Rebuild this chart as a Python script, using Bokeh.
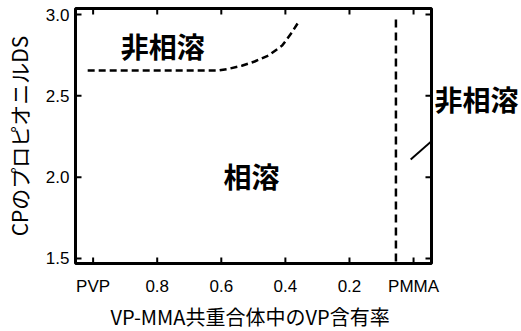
from bokeh.plotting import figure
from bokeh.models import Range1d, FixedTicker, Label, Title, LinearAxis
from bokeh.embed import file_html
from bokeh.resources import INLINE

# Phase boundary (dashed curve)
boundary_x = [1.017, 0.61, 0.58, 0.536, 0.496, 0.453, 0.41, 0.38, 0.358]
boundary_y = [2.656, 2.656, 2.665, 2.685, 2.711, 2.748, 2.809, 2.889, 2.957]

# Vertical dashed boundary near PMMA
pmma_x = [0.055, 0.055]
pmma_y = [1.482, 2.97]

# Region labels
label_texts = ["非相溶", "相溶", "非相溶"]
label_x = [0.783, 0.506, -0.197]
label_y = [2.809, 2.004, 2.478]

# Pointer line from the right label to the vertical boundary
pointer_x = [-0.144, 0.009]
pointer_y = [2.373, 2.109]

# Axis limits
x_lo, x_hi = 1.055, -0.056
y_lo, y_hi = 1.469, 3.037

x_ticks = [1.0, 0.8, 0.6, 0.4, 0.2, 0.0]
x_tick_labels = ["PVP", "0.8", "0.6", "0.4", "0.2", "PMMA"]
y_ticks = [1.5, 2.0, 2.5, 3.0]
y_tick_labels = ["1.5", "2.0", "2.5", "3.0"]

x_title = "VP-MMA共重合体中のVP含有率"
y_title = "CPのプロピオニルDS"

TICK_FONT = "Liberation Sans"
CJK_FONT = "Noto Sans CJK JP"
INK = "black"

p = figure(frame_width=356, frame_height=255, output_backend="svg", toolbar_location=None,
           x_range=Range1d(x_lo, x_hi), y_range=Range1d(y_lo, y_hi),
           min_border_left=66, min_border_right=91, min_border_top=8, min_border_bottom=0)
p.grid.visible = False
p.outline_line_color = INK
p.outline_line_width = 3

for ax, ticks, labels in ((p.xaxis[0], x_ticks, x_tick_labels), (p.yaxis[0], y_ticks, y_tick_labels)):
    ax.ticker = FixedTicker(ticks=ticks)
    ax.major_label_overrides = {t: l for t, l in zip(ticks, labels)}
    ax.axis_line_color = None
    ax.major_tick_line_color = None
    ax.minor_tick_line_color = None
    ax.major_label_text_font = TICK_FONT
    ax.major_label_text_font_size = "17px"
    ax.major_label_text_color = INK

p.xaxis[0].major_label_standoff = 7
p.yaxis[0].major_label_standoff = 0

p.yaxis[0].axis_label = y_title
p.yaxis[0].axis_label_text_font = CJK_FONT
p.yaxis[0].axis_label_text_font_style = "normal"
p.yaxis[0].axis_label_text_font_size = "21px"
p.yaxis[0].axis_label_text_color = INK
p.yaxis[0].axis_label_standoff = 9

# Right-hand region label placed beside the plot at its y value
right_axis = LinearAxis(ticker=FixedTicker(ticks=[label_y[2]]),
                        major_label_overrides={label_y[2]: label_texts[2]})
right_axis.axis_line_color = None
right_axis.major_tick_line_color = None
right_axis.minor_tick_line_color = None
right_axis.major_tick_in = 0
right_axis.major_tick_out = 0
right_axis.major_label_standoff = 3
right_axis.major_label_text_font = CJK_FONT
right_axis.major_label_text_font_style = "bold"
right_axis.major_label_text_font_size = "28px"
right_axis.major_label_text_color = INK
p.add_layout(right_axis, "right")

p.add_layout(Title(text=x_title, align="left", offset=35, standoff=2,
                   text_font=CJK_FONT, text_font_size="20px", text_font_style="normal",
                   text_color=INK), "below")

p.line(boundary_x, boundary_y, line_color=INK, line_width=2.5, line_dash="7 4")
p.line(pmma_x, pmma_y, line_color=INK, line_width=2.5, line_dash="8 5")

# Inward ticks on all four sides
tick_dx = 6 / 320.0
tick_dy = 6 / 162.7
nx, ny = len(x_ticks), len(y_ticks)
tick_x0 = x_ticks + x_ticks + [x_lo] * ny + [x_hi] * ny
tick_x1 = x_ticks + x_ticks + [x_lo - tick_dx] * ny + [x_hi + tick_dx] * ny
tick_y0 = [y_lo] * nx + [y_hi] * nx + y_ticks + y_ticks
tick_y1 = [y_lo + tick_dy] * nx + [y_hi - tick_dy] * nx + y_ticks + y_ticks
p.segment(x0=tick_x0, y0=tick_y0, x1=tick_x1, y1=tick_y1, line_color=INK, line_width=2)

p.line(pointer_x, pointer_y, line_color=INK, line_width=2)

for t, lx, ly in zip(label_texts[:2], label_x[:2], label_y[:2]):
    p.add_layout(Label(x=lx, y=ly, text=t, text_align="center", text_baseline="middle",
                       text_font=CJK_FONT, text_font_style="bold", text_font_size="28px",
                       text_color=INK))

open("out.html", "w").write(file_html(p, INLINE))
